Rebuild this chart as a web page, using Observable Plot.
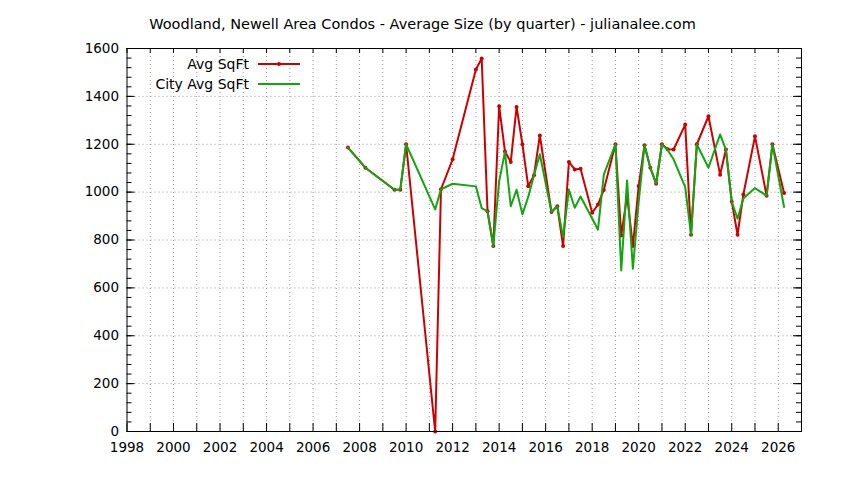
<!DOCTYPE html>
<html>
<head>
<meta charset="utf-8">
<script src="https://cdn.jsdelivr.net/npm/d3@7"></script>
<script src="https://cdn.jsdelivr.net/npm/@observablehq/plot@0.6"></script>
<style>
  html, body { margin: 0; padding: 0; background: #fff; }
  #chart { width: 844px; height: 480px; }
</style>
</head>
<body>
<div id="chart"></div>
<script>
const title = "Woodland, Newell Area Condos - Average Size (by quarter) - julianalee.com";
const seriesNames = ["Avg SqFt", "City Avg SqFt"];

const quarters = [
  2007.5, 2008.25, 2009.5, 2009.75, 2010.0, 2011.25, 2011.5, 2012.0, 2013.0, 2013.25,
  2013.5, 2013.75, 2014.0, 2014.25, 2014.5, 2014.75, 2015.0, 2015.25, 2015.5, 2015.75,
  2016.25, 2016.5, 2016.75, 2017.0, 2017.25, 2017.5, 2018.0, 2018.25, 2018.5, 2019.0,
  2019.25, 2019.5, 2019.75, 2020.0, 2020.25, 2020.5, 2020.75, 2021.0, 2021.25, 2021.5,
  2022.0, 2022.25, 2022.5, 2023.0, 2023.5, 2023.75, 2024.0, 2024.25, 2024.5, 2025.0,
  2025.5, 2025.75, 2026.25
];
const avgSqft = [
  1186, 1102, 1010, 1010, 1200, 0, 1012, 1137, 1512, 1558,
  920, 775, 1359, 1170, 1126, 1356, 1200, 1025, 1071, 1237,
  917, 941, 775, 1126, 1095, 1098, 914, 948, 1009, 1200,
  819, 984, 775, 1026, 1196, 1102, 1035, 1200, 1179, 1178,
  1282, 822, 1200, 1317, 1073, 1178, 960, 822, 990, 1233,
  985, 1200, 996
];
const cityAvgSqft = [
  1186, 1102, 1010, 1010, 1200, 928, 1012, 1035, 1024, 933,
  920, 775, 1045, 1168, 941, 1010, 907, 980, 1071, 1158,
  917, 941, 812, 1010, 935, 982, 890, 843, 1073, 1200,
  673, 1049, 680, 960, 1196, 1102, 1035, 1200, 1175, 1137,
  1021, 822, 1200, 1102, 1241, 1178, 960, 889, 973, 1017,
  985, 1200, 938
];

const xTickYears = d3.range(1998, 2027, 1);
const xLabelYears = d3.range(1998, 2027, 2);
const yMajor = d3.range(0, 1601, 200);
const yMinor = d3.range(0, 1601, 40);

const red = "#cc0000";
const green = "#11a611";

const rows = quarters.map((q, i) => ({q, avg: avgSqft[i], city: cityAvgSqft[i]}));

const W = 844, H = 480;
const mL = 126.5, mR = 43, mT = 48, mB = 49;
const plotH = H - mT - mB;
const plotW = W - mL - mR;

const chart = Plot.plot({
  width: W,
  height: H,
  marginLeft: mL,
  marginRight: mR,
  marginTop: mT,
  marginBottom: mB,
  style: {fontFamily: "DejaVu Sans", fontSize: "13px", color: "#000", background: "#fff"},
  x: {domain: [1998, 2027], axis: null},
  y: {domain: [0, 1600], axis: null},
  marks: [
    // grid
    Plot.ruleX(xTickYears.filter(d => d > 1998), {x: d => d, stroke: "#999", strokeWidth: 1, strokeDasharray: "1,3"}),
    Plot.ruleY(yMajor.filter(d => d > 0 && d < 1600), {y: d => d, stroke: "#999", strokeWidth: 1, strokeDasharray: "1,3"}),
    // ticks (inward)
    Plot.ruleX(xTickYears, {x: d => d, insetTop: plotH - 8, stroke: "#000"}),
    Plot.ruleX(xTickYears, {x: d => d, insetBottom: plotH - 5, stroke: "#000"}),
    Plot.ruleY(yMinor, {y: d => d, insetRight: plotW - 5, stroke: "#000"}),
    Plot.ruleY(yMajor, {y: d => d, insetRight: plotW - 8, stroke: "#000"}),
    Plot.ruleY(yMinor, {y: d => d, insetLeft: plotW - 5, stroke: "#000"}),
    Plot.ruleY(yMajor, {y: d => d, insetLeft: plotW - 8, stroke: "#000"}),
    // tick labels
    Plot.axisX({ticks: xLabelYears, tickSize: 0, tickPadding: 11, tickFormat: d => String(d), label: null, fontSize: 13.5}),
    Plot.axisY({ticks: yMajor, tickSize: 0, tickPadding: 8, tickFormat: d => String(d), label: null, fontSize: 13.5}),
    // data
    Plot.line(rows, {x: "q", y: "avg", stroke: red, strokeWidth: 2}),
    Plot.dot(rows, {x: "q", y: "avg", r: 2, fill: red, stroke: null}),
    Plot.line(rows, {x: "q", y: "city", stroke: green, strokeWidth: 2}),
    Plot.frame({stroke: "#000", strokeWidth: 1}),
    // title
    Plot.text([title], {frameAnchor: "top", dx: W / 2 - (mL + plotW / 2), dy: -30, fontSize: 14.5, fill: "#000"})
  ]
});

// legend (decoration, inside top-left of frame)
const svg = d3.select(chart);
const lg = svg.append("g").attr("font-family", "DejaVu Sans").attr("font-size", 14);
const legendItems = [{name: seriesNames[0], color: red, dot: true}, {name: seriesNames[1], color: green, dot: false}];
legendItems.forEach((it, i) => {
  const yy = 64 + i * 20;
  lg.append("text").attr("x", 249).attr("y", yy).attr("dy", "0.35em").attr("text-anchor", "end").attr("fill", "#000").text(it.name);
  lg.append("line").attr("x1", 258).attr("x2", 300).attr("y1", yy).attr("y2", yy).attr("stroke", it.color).attr("stroke-width", 2);
  if (it.dot) lg.append("circle").attr("cx", 279).attr("cy", yy).attr("r", 2).attr("fill", it.color);
});

document.getElementById("chart").appendChild(chart);
</script>
</body>
</html>
